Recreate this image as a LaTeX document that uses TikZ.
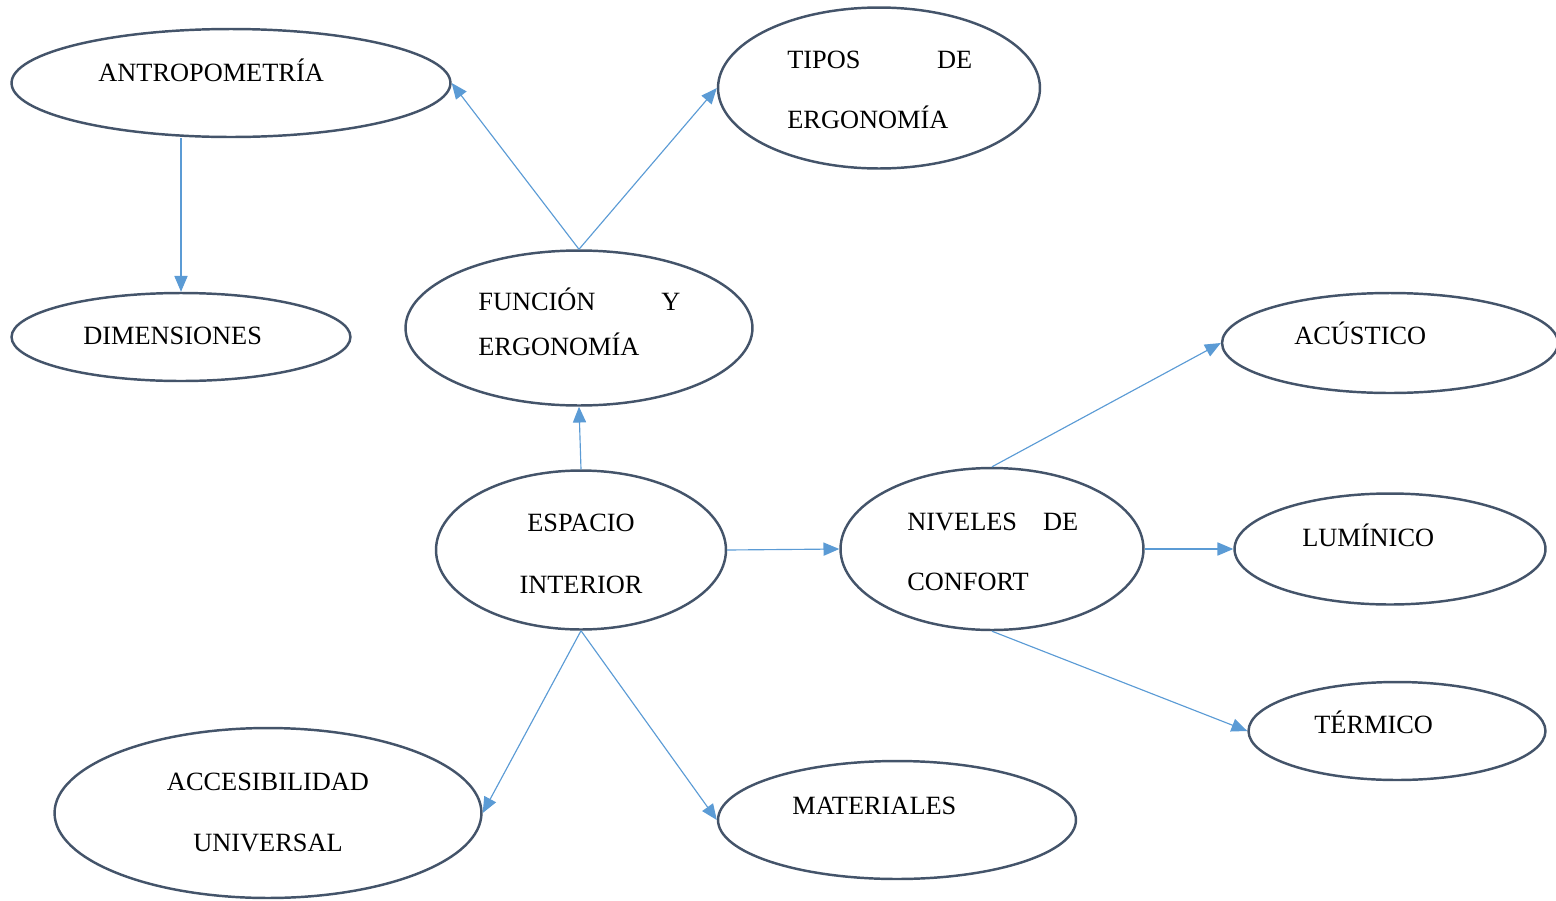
\documentclass[tikz,border=0pt]{standalone}
\usepackage{fontspec}
\setmainfont{Liberation Serif}
\usetikzlibrary{shapes.geometric, arrows.meta, positioning}
\definecolor{bordeGris}{HTML}{44546A}
\definecolor{flechaAzul}{HTML}{5B9BD5}

\begin{document}
\begin{tikzpicture}[x=0.02cm, y=-0.02cm,
    burbuja/.style={ellipse, draw=bordeGris, line width=1.4pt, inner sep=0pt},
    flecha/.style={draw=flechaAzul, line width=0.65pt, -{Triangle[length=9pt, width=7.5pt]}},
    etiq/.style={inner sep=0pt, font=\fontsize{15}{34.5}\selectfont}]
    \useasboundingbox (0,0) rectangle (1556,900);

    % elipses
    \node[burbuja, minimum width=8.78cm, minimum height=2.16cm] (antro) at (231,83) {};
    \node[burbuja, minimum width=6.78cm, minimum height=1.76cm] (dim) at (181,337) {};
    \node[burbuja, minimum width=6.94cm, minimum height=3.10cm] (func) at (579,328) {};
    \node[burbuja, minimum width=6.44cm, minimum height=3.22cm] (tipos) at (879,88) {};
    \node[burbuja, minimum width=5.80cm, minimum height=3.18cm] (esp) at (581,550) {};
    \node[burbuja, minimum width=6.06cm, minimum height=3.24cm] (niv) at (992,549) {};
    \node[burbuja, minimum width=6.72cm, minimum height=2.00cm] (acus) at (1390,343) {};
    \node[burbuja, minimum width=6.22cm, minimum height=2.22cm] (lum) at (1390,549) {};
    \node[burbuja, minimum width=5.94cm, minimum height=1.96cm] (term) at (1397,731) {};
    \node[burbuja, minimum width=8.54cm, minimum height=3.40cm] (acc) at (268,813) {};
    \node[burbuja, minimum width=7.16cm, minimum height=2.36cm] (mat) at (897,820) {};

    % textos
    \node[etiq, anchor=base west] (tAntro) at (98,81) {ANTROPOMETRÍA};
    \node[etiq, anchor=base west] (tDim) at (83,344) {DIMENSIONES};
    \node[etiq, anchor=base west, text width=4.04cm, align=left,
          font=\fontsize{15}{26}\selectfont] (tFunc) at (478,310) {FUNCIÓN\hfill Y\\ERGONOMÍA};
    \node[etiq, anchor=base west, text width=3.70cm, align=left] (tTipos) at (787,68) {TIPOS\hfill DE\\ERGONOMÍA};
    \node[etiq, anchor=base, text width=4cm, align=center,
          font=\fontsize{15}{35.5}\selectfont] (tEsp) at (581,531) {ESPACIO\\INTERIOR};
    \node[etiq, anchor=base west, text width=3.42cm, align=left] (tNiv) at (907,530) {NIVELES\hfill DE\\CONFORT};
    \node[etiq, anchor=base west] (tAcus) at (1294,344) {ACÚSTICO};
    \node[etiq, anchor=base west] (tLum) at (1302,546) {LUMÍNICO};
    \node[etiq, anchor=base west] (tTerm) at (1314,733) {TÉRMICO};
    \node[etiq, anchor=base, text width=5cm, align=center,
          font=\fontsize{15}{35}\selectfont] (tAcc) at (268,790) {ACCESIBILIDAD\\UNIVERSAL};
    \node[etiq, anchor=base west] (tMat) at (792,814) {MATERIALES};

    % conectores
    \draw[flecha] (antro.south -| dim.north) -- (dim.north);
    \draw[flecha] (func.north) -- (antro.east);
    \draw[flecha] (func.north) -- (tipos.west);
    \draw[flecha] (esp.north) -- (func.south);
    \draw[flecha] (esp.east) -- (niv.west);
    \draw[flecha] (niv.north) -- (acus.west);
    \draw[flecha] (niv.east) -- (lum.west);
    \draw[flecha] (niv.south) -- (term.west);
    \draw[flecha] (esp.south) -- (acc.east);
    \draw[flecha] (esp.south) -- (mat.west);
\end{tikzpicture}
\end{document}
